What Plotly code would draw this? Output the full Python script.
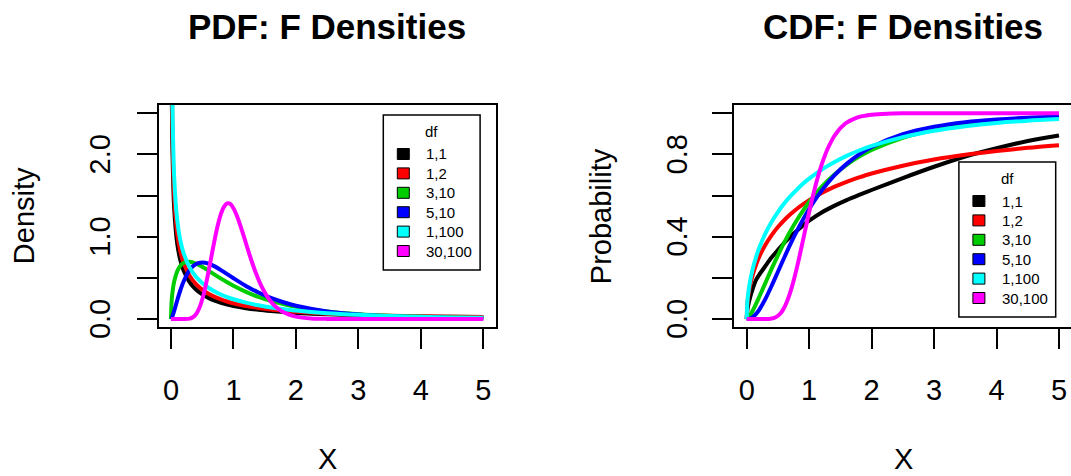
import plotly.graph_objects as go

# ---------------- data ----------------
X_GRID = [0, 0.01, 0.02, 0.05, 0.1, 0.15, 0.2, 0.3, 0.4, 0.5, 0.6, 0.7, 0.8, 0.9,
          1.0, 1.2, 1.4, 1.6, 1.8, 2.0, 2.5, 3.0, 3.5, 4.0, 4.5, 5.0]
X_F30 = [0, 0.1, 0.2, 0.3, 0.35, 0.4, 0.45, 0.5, 0.55, 0.6, 0.65, 0.7, 0.75, 0.8,
         0.85, 0.9, 0.95, 1.0, 1.05, 1.1, 1.15, 1.2, 1.25, 1.3, 1.35, 1.4, 1.45,
         1.5, 1.55, 1.6, 1.7, 1.8, 1.9, 2.0, 2.25, 2.5, 3.0, 3.5, 4.0, 4.5, 5.0]

PDF_1_1 = [None, 3.15, 2.21, 1.36, 0.915, 0.715, 0.593, 0.447, 0.359, 0.300, 0.257,
           0.224, 0.198, 0.177, 0.159, 0.132, 0.112, 0.097, 0.085, 0.075, 0.0575,
           0.046, 0.038, 0.032, 0.027, 0.024]
PDF_1_2 = [None, 3.51, 2.46, 1.52, 1.04, 0.819, 0.685, 0.523, 0.425, 0.358, 0.308,
           0.269, 0.239, 0.213, 0.192, 0.159, 0.135, 0.116, 0.101, 0.088, 0.066,
           0.052, 0.041, 0.034, 0.0285, 0.024]
PDF_3_10 = [0, 0.218, 0.302, 0.452, 0.581, 0.647, 0.681, 0.696, 0.673, 0.634, 0.588,
            0.539, 0.491, 0.446, 0.404, 0.330, 0.269, 0.220, 0.181, 0.148, 0.093,
            0.059, 0.039, 0.027, 0.018, 0.013]
PDF_5_10 = [0, 0.010, 0.027, 0.096, 0.228, 0.350, 0.454, 0.597, 0.668, 0.687, 0.674,
            0.640, 0.595, 0.545, 0.496, 0.402, 0.322, 0.256, 0.204, 0.162, 0.093,
            0.056, 0.034, 0.022, 0.014, 0.009]
PDF_1_100 = [None, 3.96, 2.79, 1.74, 1.20, 0.953, 0.805, 0.625, 0.515, 0.438, 0.380,
             0.335, 0.298, 0.267, 0.241, 0.199, 0.167, 0.141, 0.121, 0.1035, 0.072,
             0.052, 0.037, 0.0275, 0.020, 0.015]
PDF_30_100 = [0, 0, 0.0001, 0.006, 0.022, 0.058, 0.128, 0.238, 0.388, 0.572, 0.771,
              0.968, 1.142, 1.278, 1.366, 1.405, 1.399, 1.346, 1.265, 1.160, 1.044,
              0.921, 0.799, 0.684, 0.577, 0.481, 0.397, 0.325, 0.263, 0.212, 0.134,
              0.083, 0.051, 0.030, 0.008, 0.002, 0.0001, 0, 0, 0, 0]

CDF_1_1 = [0, 0.04, 0.06, 0.10, 0.15, 0.19, 0.215, 0.258, 0.30, 0.335, 0.370, 0.400,
           0.428, 0.455, 0.478, 0.518, 0.550, 0.578, 0.603, 0.627, 0.685, 0.74, 0.79,
           0.83, 0.865, 0.892]
CDF_1_2 = [0, 0.071, 0.100, 0.156, 0.218, 0.264, 0.302, 0.361, 0.408, 0.447, 0.480,
           0.509, 0.535, 0.557, 0.577, 0.612, 0.642, 0.667, 0.688, 0.707, 0.745,
           0.775, 0.798, 0.816, 0.832, 0.845]
CDF_3_10 = [0, 0.0015, 0.004, 0.016, 0.043, 0.074, 0.107, 0.176, 0.245, 0.310, 0.371,
            0.428, 0.479, 0.526, 0.569, 0.642, 0.701, 0.749, 0.789, 0.822, 0.881,
            0.918, 0.942, 0.958, 0.969, 0.977]
CDF_5_10 = [0, 0.0, 0.0002, 0.002, 0.010, 0.025, 0.045, 0.098, 0.162, 0.230, 0.298,
            0.364, 0.426, 0.483, 0.535, 0.624, 0.697, 0.754, 0.800, 0.836, 0.898,
            0.934, 0.956, 0.969, 0.978, 0.984]
CDF_1_100 = [0, 0.080, 0.112, 0.177, 0.248, 0.301, 0.345, 0.416, 0.473, 0.520, 0.561,
             0.597, 0.628, 0.657, 0.682, 0.726, 0.762, 0.793, 0.819, 0.841, 0.884,
             0.915, 0.937, 0.953, 0.964, 0.972]
CDF_30_100 = [0, 0, 0, 0.0002, 0.0008, 0.0027, 0.007, 0.016, 0.031, 0.055, 0.089,
              0.132, 0.185, 0.245, 0.311, 0.381, 0.451, 0.519, 0.585, 0.646, 0.701,
              0.750, 0.793, 0.830, 0.861, 0.888, 0.909, 0.928, 0.942, 0.954, 0.970,
              0.982, 0.988, 0.993, 0.998, 0.9995, 1.0, 1.0, 1.0, 1.0, 1.0]

LEGEND_LABELS = ["1,1", "1,2", "3,10", "5,10", "1,100", "30,100"]
COLORS = ["#000000", "#FF0000", "#00CD00", "#0000FF", "#00FFFF", "#FF00FF"]

X_TICKS = [0, 1, 2, 3, 4, 5]
PDF_Y_TICKS = [0, 0.5, 1.0, 1.5, 2.0, 2.5]
PDF_Y_TEXT = ["0.0", "", "1.0", "", "2.0", ""]
CDF_Y_TICKS = [0, 0.2, 0.4, 0.6, 0.8, 1.0]
CDF_Y_TEXT = ["0.0", "", "0.4", "", "0.8", ""]

# ---------------- figure ----------------
W, H = 1071, 476
FONT = "Liberation Sans, Arial, Helvetica, sans-serif"


def px(x):
    return x / W


def py(y):
    return (H - y) / H


fig = go.Figure()

pdf_series = [(X_GRID, PDF_1_1), (X_GRID, PDF_1_2), (X_GRID, PDF_3_10),
              (X_GRID, PDF_5_10), (X_GRID, PDF_1_100), (X_F30, PDF_30_100)]
cdf_series = [(X_GRID, CDF_1_1), (X_GRID, CDF_1_2), (X_GRID, CDF_3_10),
              (X_GRID, CDF_5_10), (X_GRID, CDF_1_100), (X_F30, CDF_30_100)]

for (xs, ys), col, lab in zip(pdf_series, COLORS, LEGEND_LABELS):
    fig.add_trace(go.Scatter(x=xs, y=ys, mode="lines", name=lab, showlegend=False,
                             line=dict(color=col, width=4, shape="spline", smoothing=0.8),
                             xaxis="x", yaxis="y"))
for (xs, ys), col, lab in zip(cdf_series, COLORS, LEGEND_LABELS):
    fig.add_trace(go.Scatter(x=xs, y=ys, mode="lines", name=lab, showlegend=False,
                             line=dict(color=col, width=4, shape="spline", smoothing=0.8),
                             xaxis="x2", yaxis="y2"))

# panel geometry (pixels)
L1, R1 = 158.5, 495.8
L2, R2 = 734.2, 1071.8
TOP, BOT = 105.0, 327.3

axis_common = dict(showgrid=False, zeroline=False, ticks="outside", ticklen=20,
                   tickwidth=2, tickcolor="black", showline=True, linewidth=2,
                   linecolor="black", tickfont=dict(family=FONT, size=29, color="black"))

fig.update_layout(
    width=W, height=H, margin=dict(l=0, r=0, t=0, b=0),
    paper_bgcolor="white", plot_bgcolor="white", showlegend=False,
    xaxis=dict(domain=[px(L1), px(R1)], range=[-0.2, 5.2], tickvals=X_TICKS,
               anchor="y", mirror=True, ticklabelstandoff=16, **axis_common),
    yaxis=dict(domain=[py(BOT), py(TOP)], range=[-0.1, 2.6], tickvals=PDF_Y_TICKS,
               showticklabels=False, anchor="x", mirror=True, **axis_common),
    xaxis2=dict(domain=[px(L2), 1.0], range=[-0.2, -0.2 + (W - L2) / 62.46],
                tickvals=X_TICKS, anchor="y2", mirror=True, ticklabelstandoff=16,
                **axis_common),
    yaxis2=dict(domain=[py(BOT), py(TOP)], range=[-0.04, 1.04], tickvals=CDF_Y_TICKS,
                showticklabels=False, anchor="x2", mirror=False, **axis_common),
)

ann = []
shapes = []
# y tick labels (vertical, like R's default las=0)
for yref, ticks, texts, xc in [("y", PDF_Y_TICKS, PDF_Y_TEXT, 100),
                               ("y2", CDF_Y_TICKS, CDF_Y_TEXT, 677)]:
    for v, t in zip(ticks, texts):
        if t:
            ann.append(dict(x=px(xc), y=v, xref="paper", yref=yref, text=t, textangle=-90,
                            showarrow=False, xanchor="center", yanchor="middle",
                            font=dict(family=FONT, size=29, color="black")))

# titles and axis labels
for cx, title in [((L1 + R1) / 2, "PDF: F Densities"), ((L2 + R2) / 2, "CDF: F Densities")]:
    ann.append(dict(x=px(cx), y=py(26), xref="paper", yref="paper", text="<b>%s</b>" % title,
                    showarrow=False, xanchor="center", yanchor="middle",
                    font=dict(family=FONT, size=35, color="black")))
    ann.append(dict(x=px(cx), y=0, xref="paper", yref="paper", text="X",
                    showarrow=False, xanchor="center", yanchor="bottom", borderpad=0,
                    font=dict(family=FONT, size=29, color="black")))
lab_x = {"Density": 24, "Probability": 601}
for t, xx in lab_x.items():
    ann.append(dict(x=px(xx), y=py((TOP + BOT) / 2), xref="paper", yref="paper", text=t,
                    textangle=-90, showarrow=False, xanchor="center", yanchor="middle",
                    font=dict(family=FONT, size=29, color="black")))

# legends (drawn like R's legend with filled boxes)
for (bl, bt) in [(383.3, 115.0), (958.9, 162.0)]:
    bw, bh = 96.8, 155.0
    shapes.append(dict(type="rect", xref="paper", yref="paper",
                       x0=px(bl), x1=px(bl + bw), y0=py(bt + bh), y1=py(bt),
                       line=dict(color="black", width=1.5), fillcolor="white", layer="above"))
    ann.append(dict(x=px(bl + bw / 2), y=py(bt + 16), xref="paper", yref="paper", text="df",
                    showarrow=False, xanchor="center", yanchor="middle",
                    font=dict(family=FONT, size=15, color="black")))
    for i, (lab, col) in enumerate(zip(LEGEND_LABELS, COLORS)):
        yc = bt + 39 + 19.4 * i
        shapes.append(dict(type="rect", xref="paper", yref="paper",
                           x0=px(bl + 14), x1=px(bl + 26), y0=py(yc + 5.5), y1=py(yc - 5.5),
                           line=dict(color="black", width=1), fillcolor=col, layer="above"))
        ann.append(dict(x=px(bl + 41), y=py(yc), xref="paper", yref="paper", text=lab,
                        showarrow=False, xanchor="left", yanchor="middle",
                        font=dict(family=FONT, size=15, color="black")))

fig.update_layout(annotations=ann, shapes=shapes)
fig.write_html("out.html")
